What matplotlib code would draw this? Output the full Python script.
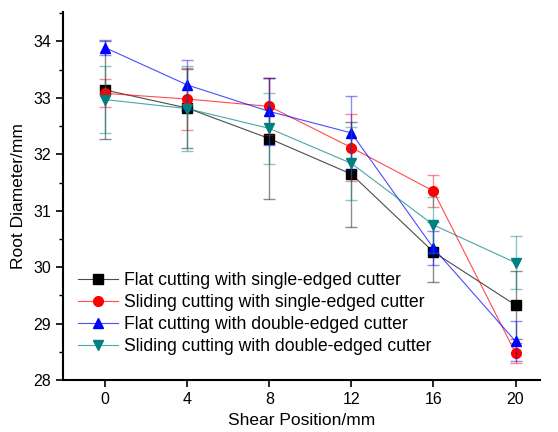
import matplotlib

matplotlib.use("Agg")

import matplotlib.pyplot as plt
from matplotlib.colors import to_rgba
from matplotlib.ticker import MultipleLocator

plt.rcParams["font.family"] = ["Liberation Sans", "DejaVu Sans"]

POSITIONS = [0, 4, 8, 12, 16, 20]

LABELS = [
    "Flat cutting with single-edged cutter",
    "Sliding cutting with single-edged cutter",
    "Flat cutting with double-edged cutter",
    "Sliding cutting with double-edged cutter",
]

flat_single = [33.14, 32.82, 32.28, 31.65, 30.27, 29.33]
flat_single_err = [0.86, 0.70, 1.07, 0.93, 0.53, 0.60]

slide_single = [33.08, 32.98, 32.85, 32.12, 31.35, 28.48]
slide_single_err = [0.25, 0.55, 0.50, 0.60, 0.28, 0.18]

flat_double = [33.89, 33.23, 32.76, 32.38, 30.34, 28.69]
flat_double_err = [0.13, 0.45, 0.60, 0.65, 0.30, 0.35]

slide_double = [32.97, 32.81, 32.46, 31.84, 30.75, 30.08]
slide_double_err = [0.60, 0.75, 0.63, 0.65, 0.50, 0.47]

SERIES = [
    (flat_single, flat_single_err, "#000000", "s"),
    (slide_single, slide_single_err, "#ff0000", "o"),
    (flat_double, flat_double_err, "#0000ff", "^"),
    (slide_double, slide_double_err, "#008080", "v"),
]


def main():
    fig = plt.figure(figsize=(5.58, 4.32), dpi=100)
    ax = fig.add_axes([0.113, 0.12, 0.855, 0.852])

    for (values, errs, color, marker), label in zip(SERIES, LABELS):
        ax.errorbar(POSITIONS, values, yerr=errs, fmt="none", ecolor=color,
                    alpha=0.45, elinewidth=1.0, capsize=4, capthick=1.0)
        ax.plot(POSITIONS, values, color=to_rgba(color, 0.7), linewidth=0.8,
                marker=marker, markersize=7, markerfacecolor=color,
                markeredgecolor=color, label=label)

    ax.set_xlim(-2.05, 21.2)
    ax.set_ylim(28, 34.52)
    ax.set_xticks(POSITIONS)
    ax.yaxis.set_major_locator(MultipleLocator(1))
    ax.yaxis.set_minor_locator(MultipleLocator(0.5))
    ax.tick_params(direction="out", labelsize=11.5, length=5, width=1.2)
    ax.tick_params(which="minor", direction="out", length=3, width=1.0)

    for side in ("top", "right"):
        ax.spines[side].set_visible(False)
    for side in ("left", "bottom"):
        ax.spines[side].set_linewidth(1.5)

    ax.set_xlabel("Shear Position/mm", fontsize=12.5, labelpad=4)
    ax.set_ylabel("Root Diameter/mm", fontsize=12.5, labelpad=5)

    ax.legend(loc="lower left", bbox_to_anchor=(0.005, 0.035), frameon=False,
              fontsize=12.7, handlelength=2.3, handletextpad=0.3,
              labelspacing=0.28, borderaxespad=0.3)

    fig.savefig("out.png", dpi=100)
    plt.close(fig)


if __name__ == "__main__":
    main()
